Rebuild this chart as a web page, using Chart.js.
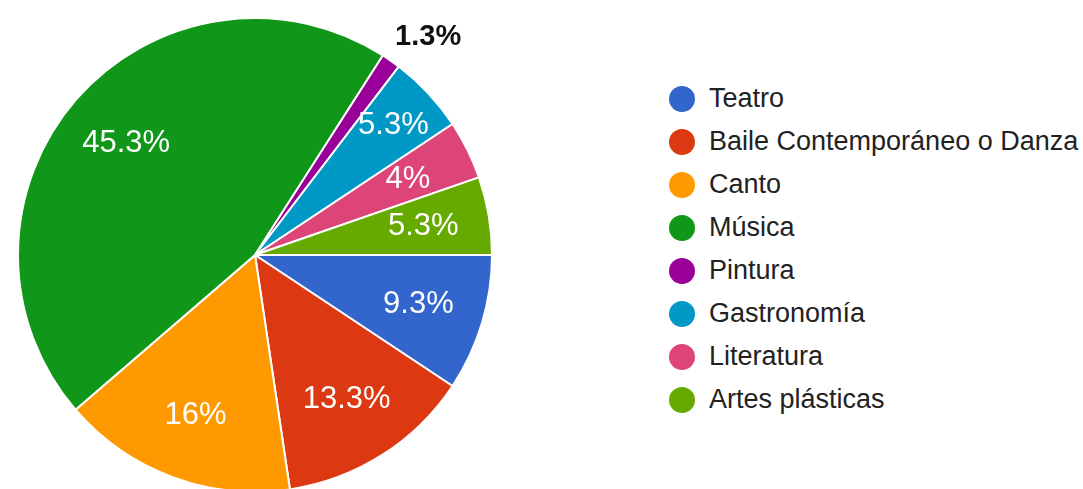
<!DOCTYPE html>
<html lang="es">
<head>
<meta charset="utf-8">
<title>Actividades artísticas</title>
<script src="https://cdn.jsdelivr.net/npm/chart.js@4.4.1/dist/chart.umd.min.js"></script>
<style>
    html, body {
        margin: 0;
        padding: 0;
        background: #ffffff;
        overflow: hidden;
        width: 1083px;
        height: 489px;
    }
    #contenedorPastel {
        position: absolute;
        left: 17px;
        top: 17px;
        width: 476px;
        height: 476px;
    }
    #leyenda {
        position: absolute;
        left: 669px;
        top: 77px;
        margin: 0;
        padding: 0;
        list-style: none;
        font-family: "Liberation Sans", Arial, sans-serif;
        font-size: 27px;
        color: #222222;
    }
    #leyenda li {
        height: 43px;
        display: flex;
        align-items: center;
        white-space: nowrap;
    }
    #leyenda .punto {
        width: 26px;
        height: 26px;
        border-radius: 50%;
        margin-right: 14px;
        flex: none;
    }
</style>
</head>
<body>
<div id="contenedorPastel"><canvas id="graficoPastel" width="476" height="476"></canvas></div>
<ul id="leyenda"></ul>

<script>
// Datos del gráfico
const categorias = ["Teatro", "Baile Contemporáneo o Danza", "Canto", "Música", "Pintura", "Gastronomía", "Literatura", "Artes plásticas"];
const porcentajes = [9.3, 13.3, 16, 45.3, 1.3, 5.3, 4, 5.3];
const etiquetas = ["9.3%", "13.3%", "16%", "45.3%", "1.3%", "5.3%", "4%", "5.3%"];
const colores = ["#3366cc", "#dc3912", "#ff9900", "#109618", "#990099", "#0099c6", "#dd4477", "#66aa00"];

const FUENTE = '"Liberation Sans", Arial, sans-serif';
const TAM_ETIQUETA = 31;

// Leyenda en HTML
const leyenda = document.getElementById('leyenda');
categorias.forEach((nombre, i) => {
    const li = document.createElement('li');
    const punto = document.createElement('span');
    punto.className = 'punto';
    punto.style.background = colores[i];
    li.appendChild(punto);
    li.appendChild(document.createTextNode(nombre));
    leyenda.appendChild(li);
});

// Comprueba si la caja del texto cabe dentro del sector
function cabeEnSector(cx, cy, w, h, arc) {
    const esquinas = [[cx - w/2, cy - h/2], [cx + w/2, cy - h/2], [cx - w/2, cy + h/2], [cx + w/2, cy + h/2]];
    return esquinas.every(([px, py]) => {
        const dx = px - arc.x, dy = py - arc.y;
        if (Math.hypot(dx, dy) > arc.outerRadius) return false;
        let a = Math.atan2(dy, dx);
        while (a < arc.startAngle) a += 2 * Math.PI;
        while (a >= arc.startAngle + 2 * Math.PI) a -= 2 * Math.PI;
        return a <= arc.endAngle;
    });
}

// Plugin para dibujar los porcentajes
const pluginEtiquetas = {
    id: 'etiquetasSector',
    afterDatasetsDraw(chart) {
        const ctx = chart.ctx;
        const meta = chart.getDatasetMeta(0);
        meta.data.forEach((elem, i) => {
            const arc = elem.getProps(['x', 'y', 'startAngle', 'endAngle', 'outerRadius'], true);
            const medio = (arc.startAngle + arc.endAngle) / 2;
            const texto = etiquetas[i];

            ctx.save();
            ctx.font = `${TAM_ETIQUETA}px ${FUENTE}`;
            const w = ctx.measureText(texto).width;
            const h = TAM_ETIQUETA * 0.72;

            // se busca la distancia más corta a la que el texto cabe (con algo de holgura)
            let d = null;
            for (let r = 0.72 * arc.outerRadius; r < arc.outerRadius; r += 1) {
                if (cabeEnSector(arc.x + r * Math.cos(medio), arc.y + r * Math.sin(medio), w * 0.9, h * 0.9, arc)) {
                    d = r;
                    break;
                }
            }

            ctx.textAlign = 'center';
            ctx.textBaseline = 'middle';
            if (d !== null) {
                ctx.fillStyle = '#ffffff';
                ctx.fillText(texto, arc.x + d * Math.cos(medio), arc.y + d * Math.sin(medio));
            } else {
                // Fuera del pastel, en negrita; la esquina más cercana toca el punto de anclaje
                ctx.font = `bold ${TAM_ETIQUETA - 2}px ${FUENTE}`;
                const wb = ctx.measureText(texto).width;
                const hb = (TAM_ETIQUETA - 2) * 0.72;
                const px = arc.x + (arc.outerRadius + 16) * Math.cos(medio) - 5;
                const py = arc.y + (arc.outerRadius + 16) * Math.sin(medio);
                const cx = px + Math.sign(Math.cos(medio)) * wb / 2;
                const cy = py + Math.sign(Math.sin(medio)) * hb / 2;
                ctx.fillStyle = '#111111';
                ctx.fillText(texto, cx, cy);
            }
            ctx.restore();
        });
    }
};

const ctx = document.getElementById('graficoPastel').getContext('2d');
new Chart(ctx, {
    type: 'pie',
    data: {
        labels: categorias,
        datasets: [{
            data: porcentajes,
            backgroundColor: colores,
            borderColor: '#ffffff',
            borderWidth: 2
        }]
    },
    options: {
        responsive: false,
        animation: false,
        rotation: 90,
        layout: { padding: 0 },
        plugins: {
            legend: { display: false },
            tooltip: { enabled: false }
        }
    },
    plugins: [pluginEtiquetas]
});
</script>
</body>
</html>
